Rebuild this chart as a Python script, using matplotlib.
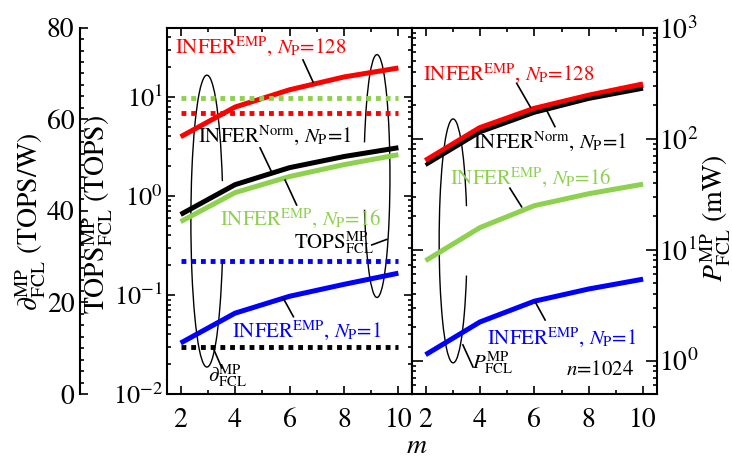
import numpy as np
import matplotlib
matplotlib.use('Agg')
import matplotlib.pyplot as plt
from matplotlib.patches import Arc
from matplotlib.ticker import MultipleLocator

plt.rcParams['font.family'] = ['STIXGeneral', 'DejaVu Serif']
plt.rcParams['mathtext.fontset'] = 'stix'

# ---- data ----
m = [2, 4, 6, 8, 10]

# left panel, TOPS (log axis)
tops_emp128 = [3.96, 7.9, 11.8, 15.9, 19.6]
tops_norm1 = [0.65, 1.30, 1.93, 2.5, 3.07]
tops_emp16 = [0.55, 1.08, 1.57, 2.07, 2.61]
tops_emp1 = [0.0327, 0.0655, 0.097, 0.128, 0.166]

# left panel, efficiency TOPS/W (outer linear axis), flat over m
eff_emp16 = 64.6
eff_emp128 = 61.3
eff_emp1 = 29.1
eff_norm1 = 10.3

# right panel, power mW (log axis)
pow_emp128 = [62.8, 124, 185, 243, 307]
pow_norm1 = [57.8, 114, 171, 228, 282]
pow_emp16 = [7.95, 15.8, 24.9, 31.9, 38.9]
pow_emp1 = [1.13, 2.23, 3.43, 4.42, 5.42]

RED = '#FF0000'
GREEN = '#8DD14F'
BLUE = '#0000FF'
BLACK = '#000000'

W, H = 732, 462
fig = plt.figure(figsize=(W / 100, H / 100), dpi=100)

ax1 = fig.add_axes([167 / W, 1 - 394 / H, 245 / W, 366.3 / H])
axd = ax1.twinx()
ax2 = fig.add_axes([412 / W, 1 - 394 / H, 244.7 / W, 366.3 / H])


def style(ax):
    ax.tick_params(which='both', direction='in', top=True, bottom=True,
                   left=True, right=True, width=1.2, labelsize=20)
    ax.tick_params(which='major', length=6)
    ax.tick_params(which='minor', length=3)
    ax.tick_params(axis='x', which='both', pad=10)
    for s in ax.spines.values():
        s.set_linewidth(1.5)
    ax.set_xlim(1.5, 10.5)
    ax.set_xticks(m)
    ax.xaxis.set_minor_locator(MultipleLocator(1))


# ---- left panel ----
ax1.set_yscale('log')
ax1.set_ylim(0.01, 50)
style(ax1)
ax1.tick_params(axis='y', which='both', labelleft=True, labelright=False, pad=3, labelsize=19)
lw = 3.6
ax1.plot(m, tops_emp128, color=RED, lw=lw, solid_capstyle='butt')
ax1.plot(m, tops_norm1, color=BLACK, lw=lw, solid_capstyle='butt')
ax1.plot(m, tops_emp16, color=GREEN, lw=lw, solid_capstyle='butt')
ax1.plot(m, tops_emp1, color=BLUE, lw=lw, solid_capstyle='butt')

# outer efficiency axis
axd.set_ylim(0, 80)
axd.yaxis.tick_left()
for k in ['right', 'top', 'bottom']:
    axd.spines[k].set_visible(False)
axd.spines['left'].set_position(('axes', -0.355))
axd.spines['left'].set_linewidth(1.5)
axd.yaxis.set_major_locator(MultipleLocator(20))
axd.yaxis.set_minor_locator(MultipleLocator(2.5))
axd.tick_params(axis='y', which='both', direction='in', labelsize=20, width=1.2, pad=4)
axd.tick_params(axis='y', which='major', length=6)
axd.tick_params(axis='y', which='minor', length=3)
dot = (0, (1, 1))
for val, col in [(eff_emp16, GREEN), (eff_emp128, RED), (eff_emp1, BLUE), (eff_norm1, BLACK)]:
    axd.hlines(val, m[0], m[-1], colors=col, linestyles=dot, lw=3.5)

# lasso ellipses and leaders (axes fraction)
ax1.add_patch(Arc((0.163, 0.472), 0.131, 0.797, theta1=60, theta2=300,
                  transform=ax1.transAxes, color='k', lw=1.0))
ax1.add_patch(Arc((0.857, 0.595), 0.106, 0.663, theta1=-119, theta2=119,
                  transform=ax1.transAxes, color='k', lw=1.0))
leaders1 = [((0.555, 0.912), (0.596, 0.852)),
            ((0.380, 0.672), (0.427, 0.606)),
            ((0.482, 0.584), (0.529, 0.516)),
            ((0.836, 0.407), (0.897, 0.422)),
            ((0.475, 0.261), (0.516, 0.211)),
            ((0.192, 0.120), (0.224, 0.071))]
for (x0, y0), (x1, y1) in leaders1:
    ax1.plot([x0, x1], [y0, y1], color='k', lw=1.2, transform=ax1.transAxes)

fs = 15
ax1.text(0.033, 0.931, r'INFER$^{\mathrm{EMP}}$, $N_{\mathrm{P}}$=128', color=RED,
         fontsize=fs, transform=ax1.transAxes, va='baseline')
ax1.text(0.127, 0.689, r'INFER$^{\mathrm{Norm}}$, $N_{\mathrm{P}}$=1', color=BLACK,
         fontsize=fs, transform=ax1.transAxes, va='baseline')
ax1.text(0.216, 0.461, r'INFER$^{\mathrm{EMP}}$, $N_{\mathrm{P}}$=16', color=GREEN,
         fontsize=fs, transform=ax1.transAxes, va='baseline')
ax1.text(0.517, 0.398, r'TOPS$^{\mathrm{MP}}_{\mathrm{FCL}}$', color=BLACK,
         fontsize=fs, transform=ax1.transAxes, va='baseline')
ax1.text(0.264, 0.156, r'INFER$^{\mathrm{EMP}}$, $N_{\mathrm{P}}$=1', color=BLUE,
         fontsize=fs, transform=ax1.transAxes, va='baseline')
ax1.text(0.169, 0.034, r'$\partial^{\mathrm{MP}}_{\mathrm{FCL}}$', color=BLACK,
         fontsize=fs, transform=ax1.transAxes, va='baseline')

# ---- right panel ----
ax2.set_yscale('log')
ax2.set_ylim(0.5, 1000)
style(ax2)
ax2.tick_params(axis='y', which='both', labelleft=False, labelright=True, pad=2)
ax2.tick_params(axis='y', which='major', length=8)
ax2.plot(m, pow_emp128, color=RED, lw=lw + 1, solid_capstyle='butt')
ax2.plot(m, pow_norm1, color=BLACK, lw=lw - 0.8, solid_capstyle='butt')
ax2.plot(m, pow_emp16, color=GREEN, lw=lw, solid_capstyle='butt')
ax2.plot(m, pow_emp1, color=BLUE, lw=lw, solid_capstyle='butt')

ax2.add_patch(Arc((0.168, 0.418), 0.114, 0.666, theta1=60, theta2=300,
                  transform=ax2.transAxes, color='k', lw=1.0))
leaders2 = [((0.428, 0.848), (0.484, 0.783)),
            ((0.550, 0.775), (0.584, 0.730)),
            ((0.400, 0.562), (0.448, 0.511)),
            ((0.503, 0.252), (0.544, 0.202)),
            ((0.208, 0.134), (0.249, 0.074))]
for (x0, y0), (x1, y1) in leaders2:
    ax2.plot([x0, x1], [y0, y1], color='k', lw=1.2, transform=ax2.transAxes)

ax2.text(0.046, 0.857, r'INFER$^{\mathrm{EMP}}$, $N_{\mathrm{P}}$=128', color=RED,
         fontsize=fs, transform=ax2.transAxes, va='baseline')
ax2.text(0.251, 0.671, r'INFER$^{\mathrm{Norm}}$, $N_{\mathrm{P}}$=1', color=BLACK,
         fontsize=fs, transform=ax2.transAxes, va='baseline')
ax2.text(0.155, 0.575, r'INFER$^{\mathrm{EMP}}$, $N_{\mathrm{P}}$=16', color=GREEN,
         fontsize=fs, transform=ax2.transAxes, va='baseline')
ax2.text(0.305, 0.138, r'INFER$^{\mathrm{EMP}}$, $N_{\mathrm{P}}$=1', color=BLUE,
         fontsize=fs, transform=ax2.transAxes, va='baseline')
ax2.text(0.244, 0.070, r'$P^{\mathrm{MP}}_{\mathrm{FCL}}$', color=BLACK,
         fontsize=fs, transform=ax2.transAxes, va='baseline')
ax2.text(0.905, 0.052, r'$n$=1024', color=BLACK, fontsize=fs,
         transform=ax2.transAxes, va='baseline', ha='right')

# ---- axis titles ----
fig.text(31 / W, 1 - 222 / H, r'$\partial^{\mathrm{MP}}_{\mathrm{FCL}}$ (TOPS/W)',
         rotation=90, ha='center', va='center', fontsize=20)
fig.text(98 / W, 1 - 214 / H, r'TOPS$^{\mathrm{MP}}_{\mathrm{FCL}}$ (TOPS)',
         rotation=90, ha='center', va='center', fontsize=20)
fig.text(716 / W, 1 - 218 / H, r'$P^{\mathrm{MP}}_{\mathrm{FCL}}$ (mW)',
         rotation=90, ha='center', va='center', fontsize=20)
fig.text(417 / W, 1 - 453 / H, r'$m$', ha='center', va='baseline', fontsize=20)

fig.savefig('out.png', dpi=100)
